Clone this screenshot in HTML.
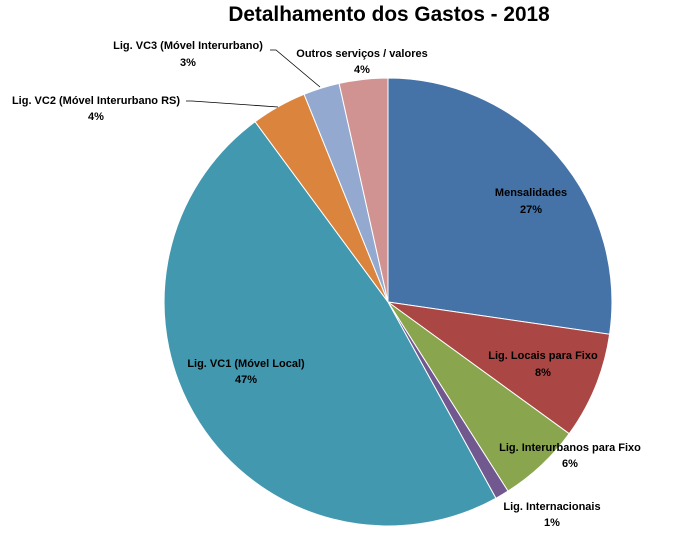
<!DOCTYPE html>
<html><head><meta charset="utf-8"><style>body{margin:0;background:#fff}svg{display:block}text{font-family:"Liberation Sans",Arial,sans-serif;font-weight:bold;font-size:11px;fill:#000}</style></head><body>
<svg width="682" height="544" viewBox="0 0 682 544">
<rect width="682" height="544" fill="#fff"/>
<text x="389" y="21" text-anchor="middle" style="font-size:20.8px">Detalhamento dos Gastos - 2018</text>
<g stroke="#fff" stroke-width="1">
<path d="M388,302 L388,78 A224,224 0 0 1 609.6,334.3 Z" fill="#4572A7"/>
<path d="M388,302 L609.6,334.3 A224,224 0 0 1 569.2,433.7 Z" fill="#AA4643"/>
<path d="M388,302 L569.2,433.7 A224,224 0 0 1 508,491.1 Z" fill="#89A54E"/>
<path d="M388,302 L508,491.1 A224,224 0 0 1 495.9,498.3 Z" fill="#71588F"/>
<path d="M388,302 L495.9,498.3 A224,224 0 0 1 255.1,121.7 Z" fill="#4198AF"/>
<path d="M388,302 L255.1,121.7 A224,224 0 0 1 304.1,94.3 Z" fill="#DB843D"/>
<path d="M388,302 L304.1,94.3 A224,224 0 0 1 339.1,83.4 Z" fill="#93A9CF"/>
<path d="M388,302 L339.1,83.4 A224,224 0 0 1 388,78 Z" fill="#D19392"/>
</g>
<polyline points="186,101 192,101 278,107" fill="none" stroke="#000" stroke-width="0.8"/>
<polyline points="270,50 276,50 320,87" fill="none" stroke="#000" stroke-width="0.8"/>
<text x="188" y="49" text-anchor="middle">Lig. VC3 (Móvel Interurbano)</text>
<text x="188" y="66" text-anchor="middle">3%</text>
<text x="362" y="57" text-anchor="middle">Outros serviços / valores</text>
<text x="362" y="73" text-anchor="middle">4%</text>
<text x="96" y="104" text-anchor="middle">Lig. VC2 (Móvel Interurbano RS)</text>
<text x="96" y="120" text-anchor="middle">4%</text>
<text x="531" y="196" text-anchor="middle">Mensalidades</text>
<text x="531" y="213" text-anchor="middle">27%</text>
<text x="543" y="359" text-anchor="middle">Lig. Locais para Fixo</text>
<text x="543" y="376" text-anchor="middle">8%</text>
<text x="570" y="451" text-anchor="middle">Lig. Interurbanos para Fixo</text>
<text x="570" y="467" text-anchor="middle">6%</text>
<text x="552" y="510" text-anchor="middle">Lig. Internacionais</text>
<text x="552" y="526" text-anchor="middle">1%</text>
<text x="246" y="367" text-anchor="middle">Lig. VC1 (Móvel Local)</text>
<text x="246" y="383" text-anchor="middle">47%</text>
</svg>
</body></html>
